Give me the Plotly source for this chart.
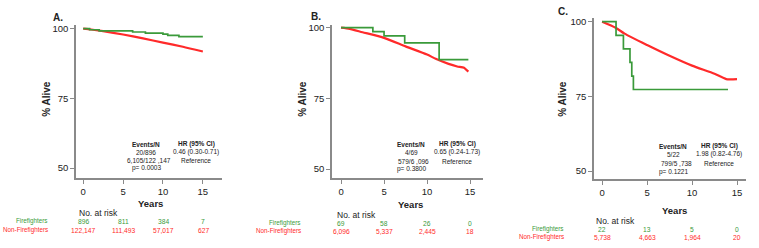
import plotly.graph_objects as go

W, H = 759, 248

# ---------------- data ----------------
# Panel A
a_ff_x = [0, 0.8, 2.0, 5.6, 6.2, 7.8, 10.0, 10.6, 12.0, 15.0]
a_ff_y = [100, 99.6, 99.2, 99.2, 98.8, 98.4, 98.0, 97.6, 97.1, 97.1]
a_nf_x = [0, 1, 2.5, 5, 7.5, 10, 12.5, 15]
a_nf_y = [100, 99.7, 99.1, 97.9, 96.5, 95.0, 93.5, 91.8]
# Panel B
b_ff_x = [0, 3.7, 5.0, 7.4, 11.4, 14.8]
b_ff_y = [100, 98.6, 97.1, 94.6, 88.7, 88.7]
b_nf_x = [0, 1, 2.5, 5, 7.5, 10, 11, 12.5, 13.5, 14.3, 14.6, 14.8]
b_nf_y = [100, 99.6, 98.4, 96.4, 93.4, 90.5, 89.0, 87.2, 86.3, 85.8, 85.0, 84.5]
# Panel C
c_ff_x = [0, 1.55, 2.37, 3.1, 3.3, 3.48, 14.0]
c_ff_y = [100, 95.45, 90.9, 86.4, 81.8, 77.3, 77.3]
c_nf_x = [0, 1.5, 2.5, 5, 7.5, 10, 12.5, 13.8, 15]
c_nf_y = [100, 98.0, 96.0, 92.2, 88.6, 85.3, 82.6, 80.8, 80.8]

x_ticks = [0, 5, 10, 15]
y_ticks = [50, 75, 100]

panel_titles = ["A.", "B.", "C."]
events_n = [["20/896", "6,105/122 ,147"], ["4/69", "579/6 ,096"], ["5/22", "799/5 ,738"]]
hr_ci = [["0.46 (0.30-0.71)", "Reference"], ["0.65 (0.24-1.73)", "Reference"], ["1.98 (0.82-4.76)", "Reference"]]
p_vals = ["p= 0.0003", "p= 0.3800", "p= 0.1221"]
risk_ff = [["896", "811", "384", "7"], ["69", "58", "26", "0"], ["22", "13", "5", "0"]]
risk_nf = [["122,147", "111,493", "57,017", "627"], ["6,096", "5,337", "2,445", "18"], ["5,738", "4,663", "1,964", "20"]]

GREEN = "#3a9a3a"
RED = "#ff2a2a"
AXC = "#8a8a8a"
FONT = "Liberation Sans, Arial, sans-serif"

# ---------------- layout geometry (pixels) ----------------
panels = [
    dict(px=(76, 222), py=(22, 177), xr=[-0.9, 17.4], yr=[46.5, 101.4],
         x0=83, dx=8.0, title=(58, 15), ylab=(47, 97), years=(150, 203),
         ann_x=(146, 196), ann_y=(143, 151, 159, 167), nar=(77, 213),
         rows=(221, 230), lab_r=50),
    dict(px=(332, 483), py=(22, 177), xr=[-1.05, 16.5], yr=[46.9, 101.05],
         x0=341, dx=8.6, title=(316, 14), ylab=(303, 97), years=(410, 204),
         ann_x=(411, 457), ann_y=(143, 151, 160, 168), nar=(335, 215),
         rows=(223, 231), lab_r=303),
    dict(px=(594, 746), py=(15, 178), xr=[-0.9, 16.0], yr=[47.4, 101.3],
         x0=602, dx=9.0, title=(563, 9), ylab=(563, 97), years=(674, 210),
         ann_x=(673, 719), ann_y=(145, 153, 162, 171), nar=(594, 221),
         rows=(229, 237), lab_r=566),
]

def px2x(p):
    return p / W

def px2y(p):
    return 1 - p / H

fig = go.Figure()
series = [(a_ff_x, a_ff_y, a_nf_x, a_nf_y), (b_ff_x, b_ff_y, b_nf_x, b_nf_y), (c_ff_x, c_ff_y, c_nf_x, c_nf_y)]
annotations = []
for i, (p, s) in enumerate(zip(panels, series)):
    n = "" if i == 0 else str(i + 1)
    xa, ya = "x" + n, "y" + n
    fig.add_trace(go.Scatter(x=s[2], y=s[3], mode="lines", line=dict(color=RED, width=2.2, shape="spline", smoothing=0.6),
                             xaxis=xa, yaxis=ya, showlegend=False, hoverinfo="skip"))
    fig.add_trace(go.Scatter(x=s[0], y=s[1], mode="lines", line=dict(color=GREEN, width=1.7, shape="hv"),
                             xaxis=xa, yaxis=ya, showlegend=False, hoverinfo="skip"))
    axcommon = dict(showline=True, linecolor=AXC, linewidth=1.5, ticks="outside", tickcolor=AXC,
                    ticklen=4, tickwidth=1, showgrid=False, zeroline=False,
                    tickfont=dict(family=FONT, size=9.5, color="#222"), fixedrange=True)
    fig.layout["xaxis" + n] = dict(domain=[px2x(p["px"][0]), px2x(p["px"][1])], range=p["xr"],
                                   tickvals=x_ticks, anchor=ya, **axcommon)
    fig.layout["yaxis" + n] = dict(domain=[px2y(p["py"][1]), px2y(p["py"][0])], range=p["yr"],
                                   tickvals=y_ticks, anchor=xa, **axcommon)

    def txt(x, y, t, size=7.5, color="#222", bold=False, xanchor="center", angle=0):
        annotations.append(dict(x=px2x(x), y=px2y(y), xref="paper", yref="paper", text=("<b>%s</b>" % t) if bold else t,
                                showarrow=False, xanchor=xanchor, yanchor="middle", textangle=angle,
                                font=dict(family=FONT, size=size, color=color)))

    txt(p["title"][0], p["title"][1], panel_titles[i], size=10, bold=True)
    txt(p["ylab"][0], p["ylab"][1], "% Alive", size=10, bold=True, angle=-90)
    txt(p["years"][0], p["years"][1], "Years", size=9.5, bold=True)
    ax1, ax2 = p["ann_x"]
    ay = p["ann_y"]
    txt(ax1, ay[0], "Events/N", size=6.5, bold=True)
    txt(ax2, ay[0], "HR (95% CI)", size=6.5, bold=True)
    txt(ax1, ay[1], events_n[i][0], size=6.5)
    txt(ax2, ay[1], hr_ci[i][0], size=6.5)
    txt(ax1 + 3, ay[2], events_n[i][1], size=6.5)
    txt(ax2, ay[2], hr_ci[i][1], size=6.5)
    txt(ax1, ay[3], p_vals[i], size=6.5)
    txt(p["nar"][0], p["nar"][1], "No. at risk", size=8.5, xanchor="left")
    txt(p["lab_r"], p["rows"][0], "Firefighters", size=6.3, color=GREEN, xanchor="right")
    txt(p["lab_r"], p["rows"][1], "Non-Firefighters", size=6.3, color=RED, xanchor="right")
    for k, xv in enumerate(x_ticks):
        xp = p["x0"] + p["dx"] * xv
        txt(xp, p["rows"][0], risk_ff[i][k], size=6.7, color=GREEN)
        txt(xp, p["rows"][1], risk_nf[i][k], size=6.7, color=RED)

fig.update_layout(width=W, height=H, margin=dict(l=0, r=0, t=0, b=0), paper_bgcolor="white",
                  plot_bgcolor="white", annotations=annotations, showlegend=False)
fig.write_html("out.html", config={"displayModeBar": False},
               post_script="document.body.style.margin='0';document.body.style.overflow='hidden';")
